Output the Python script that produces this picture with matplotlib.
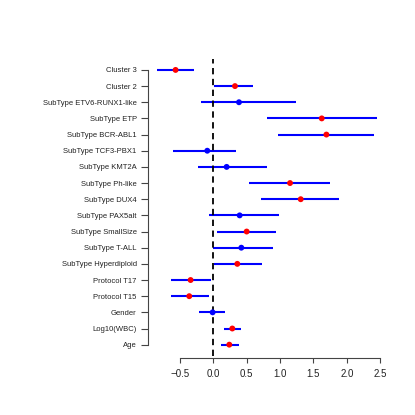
#!/usr/bin/env python3

import matplotlib
matplotlib.use('Agg')
import matplotlib.pyplot as plt
import numpy as np

# Forest plot values, top row first
labels = ['Cluster 3', 'Cluster 2', 'SubType ETV6-RUNX1-like', 'SubType ETP',
          'SubType BCR-ABL1', 'SubType TCF3-PBX1', 'SubType KMT2A',
          'SubType Ph-like', 'SubType DUX4', 'SubType PAX5alt',
          'SubType SmallSize', 'SubType T-ALL', 'SubType Hyperdiploid',
          'Protocol T17', 'Protocol T15', 'Gender', 'Log10(WBC)', 'Age']
est = [-0.565, 0.325, 0.385, 1.625, 1.695, -0.09, 0.20, 1.15, 1.31,
       0.395, 0.50, 0.42, 0.36, -0.34, -0.36, -0.01, 0.285, 0.24]
lower = [-0.85, 0.01, -0.18, 0.805, 0.97, -0.61, -0.235, 0.53, 0.715,
         -0.06, 0.055, -0.01, 0.005, -0.63, -0.63, -0.21, 0.155, 0.12]
upper = [-0.285, 0.60, 1.235, 2.455, 2.41, 0.335, 0.81, 1.755, 1.885,
         0.985, 0.935, 0.89, 0.73, -0.04, -0.07, 0.18, 0.41, 0.38]
xticks = [-0.5, 0.0, 0.5, 1.0, 1.5, 2.0, 2.5]

plt.rcParams['font.family'] = ['Liberation Sans', 'DejaVu Sans']

n = len(labels)
ypos = np.arange(n, 0, -1)
lower = np.array(lower)
upper = np.array(upper)
sig = (lower > 0) | (upper < 0)
cols = np.where(sig, 'red', 'blue')

fig = plt.figure(figsize=(4.15, 4.15), dpi=100)
ax = fig.add_axes([0.356, 0.143, 0.574, 0.715])

ax.hlines(ypos, lower, upper, color='blue', lw=1.5)
ax.scatter(est, ypos, c=cols, s=18, zorder=3, edgecolors='none')
ax.axvline(0, color='black', lw=1.3, ls=(0, (3.5, 2.5)))

lo, hi = lower.min(), upper.max()
pad = (hi - lo) * 0.04
ax.set_xlim(lo - pad, hi + pad)
ax.set_ylim(1 - (n - 1) * 0.04, n + (n - 1) * 0.04)

ax.set_yticks(ypos)
ax.set_yticklabels(labels)
ax.set_xticks(xticks)
ax.set_xticklabels(['\u22120.5', '0.0', '0.5', '1.0', '1.5', '2.0', '2.5'])

axcol = '#444444'
for s in ['top', 'right']:
    ax.spines[s].set_visible(False)
ax.spines['left'].set_bounds(1, n)
ax.spines['bottom'].set_bounds(-0.5, 2.5)
ax.spines['bottom'].set_position(('outward', 2))
for s in ['left', 'bottom']:
    ax.spines[s].set_linewidth(0.8)
    ax.spines[s].set_color(axcol)
ax.tick_params(axis='y', labelsize=5.5, length=5, width=0.8, pad=3,
               color=axcol, labelcolor='#222222')
ax.tick_params(axis='x', labelsize=7, length=3.5, width=0.8, pad=4,
               color=axcol, labelcolor='#222222')

fig.savefig('out.png', dpi=100)
